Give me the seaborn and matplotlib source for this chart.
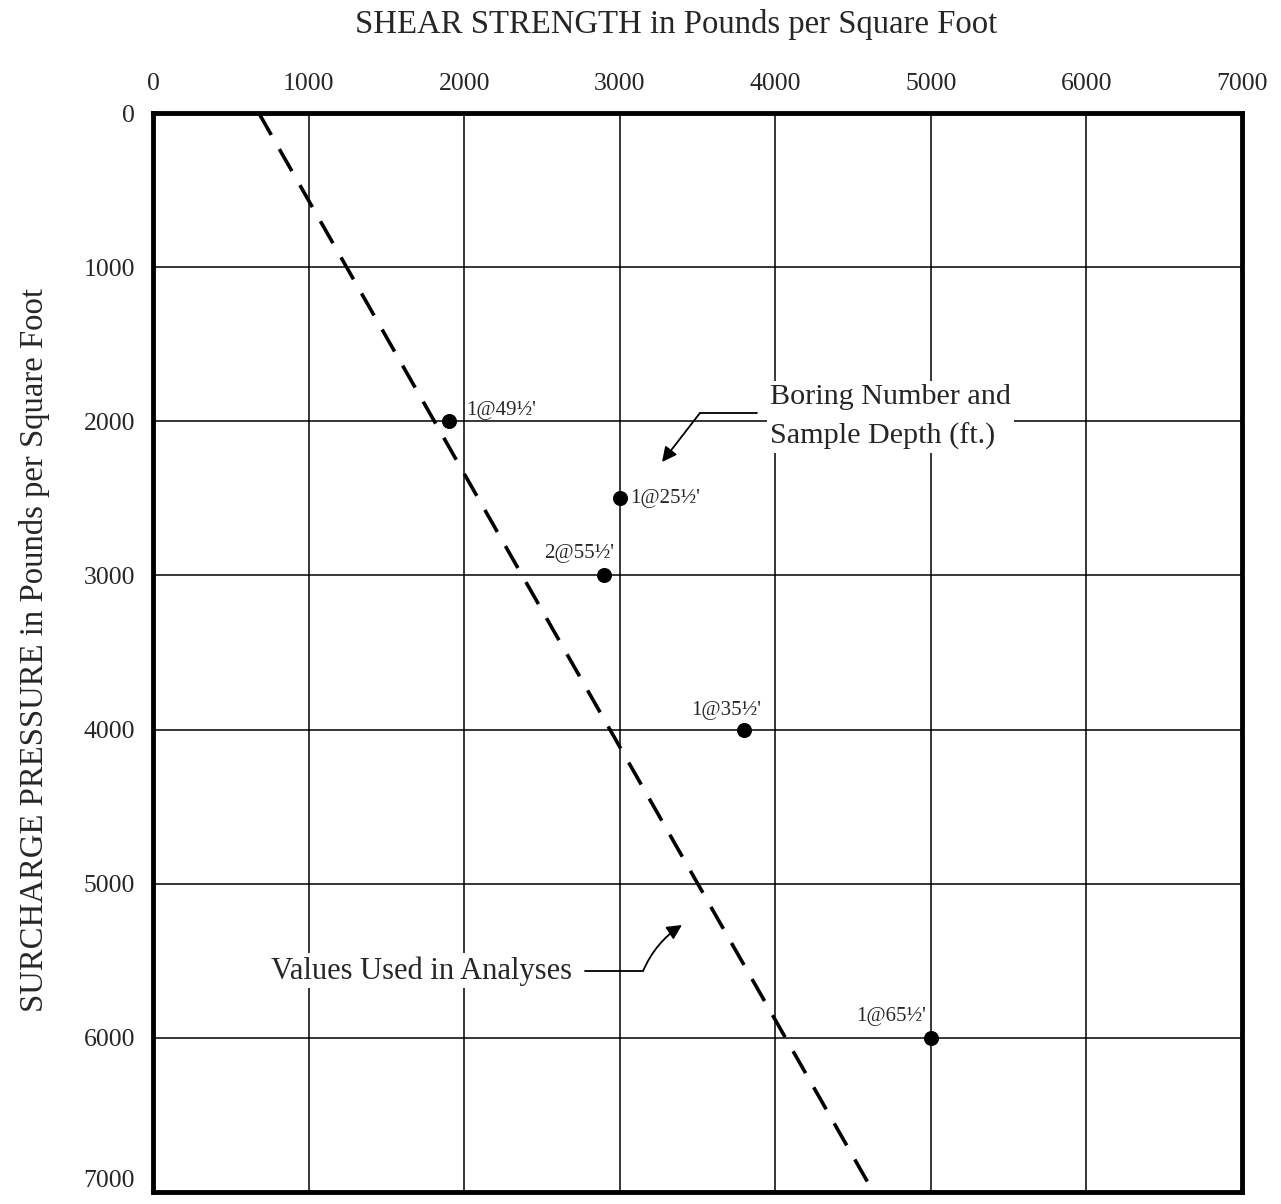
import numpy as np
import pandas as pd
import seaborn as sns
import matplotlib.pyplot as plt

sns.set_theme(style="white")
plt.rcParams['font.family'] = ['Liberation Serif', 'DejaVu Serif']

# sample results
shear = [1900, 3000, 2900, 3800, 5000]
surcharge = [2000, 2500, 3000, 4000, 6000]
sample = ["1@49½'", "1@25½'", "2@55½'", "1@35½'", "1@65½'"]

# design line used in the analyses
design_shear = [680, 4630]
design_surcharge = [0, 7000]

ticks = np.arange(0, 7001, 1000)

df = pd.DataFrame({"Shear": shear, "Surcharge": surcharge, "Sample": sample})
design = pd.DataFrame({"Shear": design_shear, "Surcharge": design_surcharge})

fig = plt.figure(figsize=(12.81, 12.04), dpi=100)
ax = fig.add_axes([153 / 1281, 1 - 1192 / 1204, 1089 / 1281, 1079 / 1204])

sns.lineplot(data=design, x="Shear", y="Surcharge", ax=ax, color="black",
             lw=2.6, dashes=False, sort=False, zorder=3)
ax.lines[-1].set_dashes([7, 4.5])
sns.scatterplot(data=df, x="Shear", y="Surcharge", ax=ax, color="black",
                s=100, edgecolor="black", zorder=4)

# label offsets in pixels: (dx, dy, ha)
offsets = [(18, 11, "left"), (10, 0, "left"), (10, 22, "right"),
           (17, 19, "right"), (-5, 21, "right")]
for (x, y, lab), (dx, dy, ha) in zip(zip(shear, surcharge, sample), offsets):
    ax.annotate(lab, (x, y), xytext=(dx, dy), textcoords="offset pixels",
                ha=ha, va="center", fontsize=15, zorder=5)

ax.set_xlim(0, 7000)
ax.set_ylim(7000, 0)
ax.set_xticks(ticks)
ax.set_yticks(ticks)
ax.xaxis.tick_top()
ax.tick_params(length=0, labelsize=18.5, pad=13)
ax.grid(True, color="black", lw=1.1)
ax.set_axisbelow(True)
for sp in ax.spines.values():
    sp.set_color("black")
    sp.set_linewidth(3.5)
ax.set_xlabel("")
ax.set_ylabel("")
# keep the bottom tick label inside the figure
ax.get_yticklabels()[-1].set_va("bottom")

fig.text(676 / 1281, 1 - 25 / 1204, "SHEAR STRENGTH in Pounds per Square Foot",
         ha="center", va="center", fontsize=23.6)
fig.text(35 / 1281, 1 - 650 / 1204, "SURCHARGE PRESSURE in Pounds per Square Foot",
         ha="center", va="center", rotation=90, fontsize=23.6)

# callouts
ax.text(3966, 1972, "Boring Number and\nSample Depth (ft.)", ha="left", va="center",
        fontsize=21.7, linespacing=1.65, zorder=6,
        bbox=dict(facecolor="white", edgecolor="none", pad=2))
ax.plot([3883, 3516], [1946, 1946], color="black", lw=1.3, zorder=6)
ax.annotate("", xy=(3272, 2264), xytext=(3516, 1946),
            arrowprops=dict(arrowstyle="-|>", color="black", lw=1.3,
                            mutation_scale=22, shrinkA=0, shrinkB=0), zorder=6)

ax.text(758, 5566, "Values Used in Analyses", ha="left", va="center",
        fontsize=22, zorder=6,
        bbox=dict(facecolor="white", edgecolor="none", pad=2))
ax.plot([2780, 3150], [5566, 5566], color="black", lw=1.3, zorder=6)
ax.annotate("", xy=(3400, 5268), xytext=(3150, 5566),
            arrowprops=dict(arrowstyle="-|>", color="black", lw=1.3,
                            mutation_scale=22, shrinkA=0, shrinkB=0,
                            connectionstyle="arc3,rad=-0.15"), zorder=6)

fig.savefig("out.png", dpi=100)
